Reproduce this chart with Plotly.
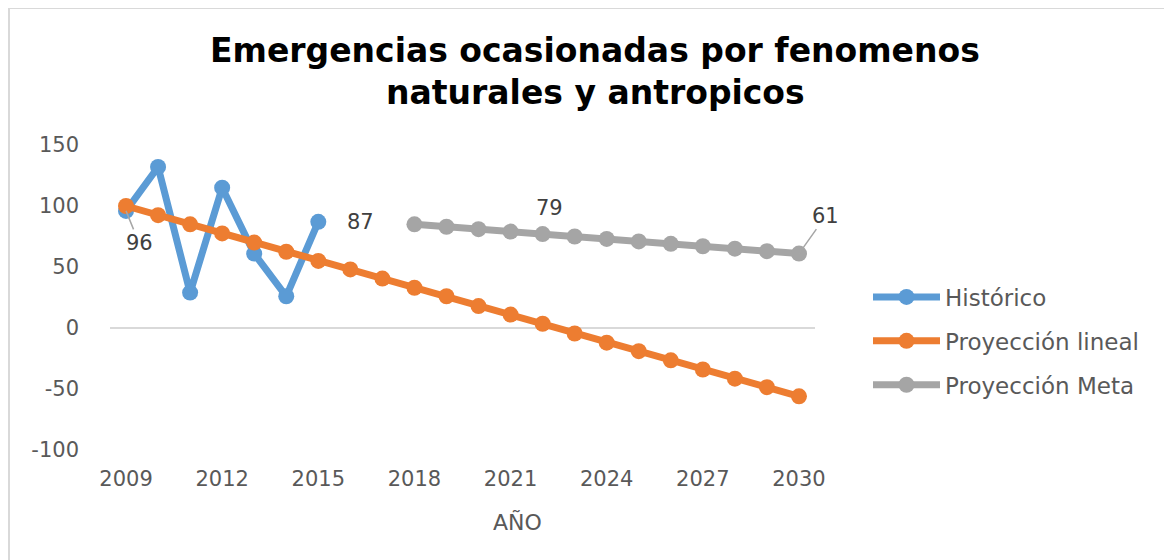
import plotly.graph_objects as go

years = [str(y) for y in range(2009, 2031)]
tick_years = ["2009", "2012", "2015", "2018", "2021", "2024", "2027", "2030"]

hist_years = ["2009", "2010", "2011", "2012", "2013", "2014", "2015"]
historico = [96, 132, 29, 115, 61, 26, 87]

lineal = [100, 92.5, 85, 77.5, 70, 62.5, 55, 48, 40.5, 33, 26, 18, 11, 3.5,
          -4.5, -12, -19, -26.5, -34, -41.5, -48.5, -56]

meta_years = ["2018", "2019", "2020", "2021", "2022", "2023", "2024", "2025",
              "2026", "2027", "2028", "2029", "2030"]
meta = [85, 83, 81, 79, 77, 75, 73, 71, 69, 67, 65, 63, 61]

y_ticks = [-100, -50, 0, 50, 100, 150]
y_ticktext = ["-100", "-50", "0", "50", "100", "150"]

BLUE = "#5b9bd5"
ORANGE = "#ed7d31"
GRAY = "#a5a5a5"
TXT = "#595959"
LBL = "#404040"
FONT = "DejaVu Sans"

W, H = 1172, 560
OFF = 8  # page body margin
L, T = 110 - OFF, 145 - OFF
PW, PH = 705, 305
R, B = W - L - PW, H - T - PH


def px(x):
    return (x - OFF - L) / PW


def py(y):
    return (T + PH - (y - OFF)) / PH


def idx(year):
    return years.index(year)


fig = go.Figure()
for name, xs, ys, col, grp in [
    ("Histórico", hist_years, historico, BLUE, "a"),
    ("Proyección lineal", years, lineal, ORANGE, "b"),
    ("Proyección Meta", meta_years, meta, GRAY, "c"),
]:
    fig.add_trace(go.Scatter(
        x=xs, y=ys, name=name, mode="lines+markers", legendgroup=grp,
        line=dict(color=col, width=7),
        marker=dict(color=col, size=16),
    ))

lbl_font = dict(family=FONT, size=21, color=LBL)
annotations = [
    dict(x=idx(hist_years[-1]), y=historico[-1], text=str(historico[-1]),
         showarrow=False, xshift=42, font=lbl_font),
    dict(x=idx(meta_years[3]), y=meta[3], text=str(meta[3]), showarrow=False,
         xshift=39, yshift=24, font=lbl_font),
    dict(x=idx(hist_years[0]), y=historico[0], text=str(historico[0]),
         showarrow=True, arrowhead=0, arrowwidth=1.5, arrowcolor="#a6a6a6",
         ax=13, ay=32, font=lbl_font),
    dict(x=idx(meta_years[-1]), y=meta[-1], text=str(meta[-1]), showarrow=True,
         arrowhead=0, arrowwidth=1.5, arrowcolor="#a6a6a6", ax=27, ay=-38,
         font=lbl_font),
    dict(xref="paper", yref="paper", x=px(595), y=py(50),
         text="<b>Emergencias ocasionadas por fenomenos</b>", showarrow=False,
         xanchor="center", yanchor="middle",
         font=dict(family=FONT, size=33, color="#000000")),
    dict(xref="paper", yref="paper", x=px(595), y=py(93),
         text="<b>naturales y antropicos</b>", showarrow=False,
         xanchor="center", yanchor="middle",
         font=dict(family=FONT, size=33, color="#000000")),
    dict(xref="paper", yref="paper", x=px(518), y=py(522), text="AÑO",
         showarrow=False, xanchor="center", yanchor="middle",
         font=dict(family=FONT, size=22, color=TXT)),
]

shapes = [
    dict(type="rect", xref="paper", yref="paper", x0=px(9), y0=py(8),
         x1=px(1200), y1=py(600), line=dict(color="#d9d9d9", width=2),
         layer="below"),
]

fig.update_layout(
    width=W, height=H,
    margin=dict(l=L, r=R, t=T, b=B, autoexpand=False),
    paper_bgcolor="white", plot_bgcolor="white",
    showlegend=True,
    legend=dict(x=px(868), y=py(341), xanchor="left", yanchor="middle",
                font=dict(family=FONT, size=23, color=TXT),
                itemwidth=67, tracegroupgap=11, traceorder="grouped",
                bgcolor="rgba(0,0,0,0)"),
    annotations=annotations,
    shapes=shapes,
    font=dict(family=FONT, color=TXT),
)
fig.update_xaxes(type="category", categoryorder="array", categoryarray=years,
                 range=[-0.5, 21.5], tickmode="array", tickvals=tick_years,
                 ticktext=tick_years, showgrid=False, showline=False,
                 ticks="", ticklabelstandoff=14,
                 tickfont=dict(family=FONT, size=21, color=TXT))
fig.update_yaxes(range=[-100, 150], tickmode="array", tickvals=y_ticks,
                 ticktext=y_ticktext, showgrid=False,
                 zeroline=True, zerolinecolor="#d9d9d9", zerolinewidth=2,
                 showline=False, ticks="", ticklabelstandoff=30,
                 tickfont=dict(family=FONT, size=21, color=TXT))

fig.write_html("out.html")
